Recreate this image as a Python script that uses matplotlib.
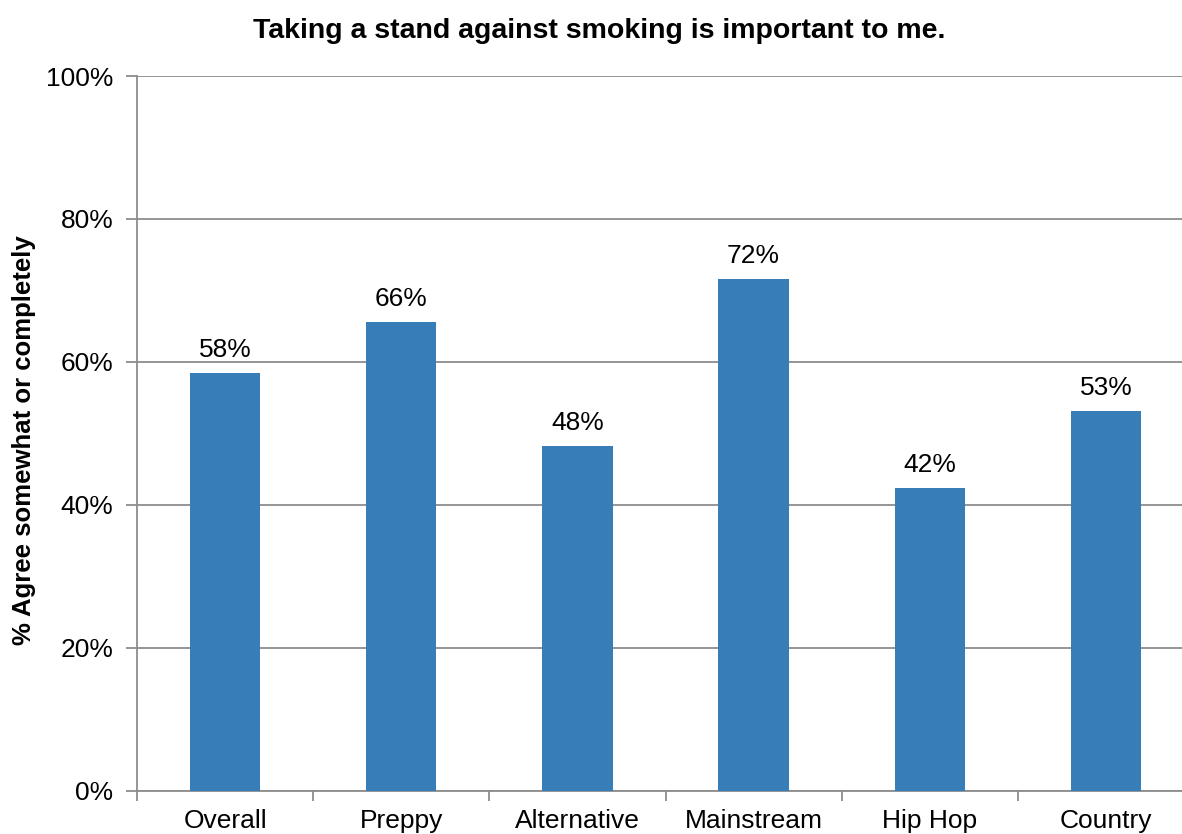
import matplotlib
matplotlib.use("Agg")
import matplotlib.pyplot as plt
import numpy as np
from matplotlib.ticker import FixedLocator

plt.rcParams['font.family'] = ['Liberation Sans', 'DejaVu Sans']

categories = ["Overall", "Preppy", "Alternative", "Mainstream", "Hip Hop", "Country"]
values = [58.4, 65.6, 48.2, 71.6, 42.3, 53.1]
y_ticks = [0, 20, 40, 60, 80, 100]
title = "Taking a stand against smoking is important to me."
y_label = "% Agree somewhat or completely"

W, H = 1182, 834
fig = plt.figure(figsize=(W / 100, H / 100), dpi=100)
left, right, bottom, top = 137, 1194, 790.5, 76
ax = fig.add_axes([left / W, (H - bottom) / H, (right - left) / W, (bottom - top) / H])

grid_c = "#8c8c8c"
bar_c = "#377db8"
fs = 19
x = np.arange(len(categories))
ax.bar(x, values, width=0.4, color=bar_c, zorder=3)

for xi, v in zip(x, values):
    ax.annotate(f"{v:.0f}%", (xi, v), xytext=(0, 8), textcoords="offset points",
                ha="center", va="bottom", fontsize=fs, color="#000000")

ax.set_xlim(-0.5, len(categories) - 0.5)
ax.set_ylim(0, 100)
ax.set_yticks(y_ticks)
ax.set_yticklabels([f"{t}%" for t in y_ticks], fontsize=fs)
ax.yaxis.grid(True, color=grid_c, linewidth=1.3, zorder=0)
ax.set_xticks(x)
ax.set_xticklabels(categories, fontsize=fs)
ax.tick_params(axis="x", which="major", length=0, pad=13)
ax.xaxis.set_minor_locator(FixedLocator(np.arange(-0.5, len(categories), 1.0)))
ax.tick_params(axis="x", which="minor", length=7, width=1.3, color=grid_c)
ax.tick_params(axis="y", length=8, width=1.3, color=grid_c, pad=9)

for s in ["top", "right"]:
    ax.spines[s].set_visible(False)
for s in ["left", "bottom"]:
    ax.spines[s].set_color(grid_c)
    ax.spines[s].set_linewidth(1.3)

fig.text(599 / W, 1 - 31 / H, title, ha="center", va="center", fontsize=20.5, fontweight="bold")
fig.text(24 / W, 1 - 440 / H, y_label, ha="center", va="center", rotation=90,
         fontsize=18.5, fontweight="bold")

fig.savefig("out.png", dpi=100)
